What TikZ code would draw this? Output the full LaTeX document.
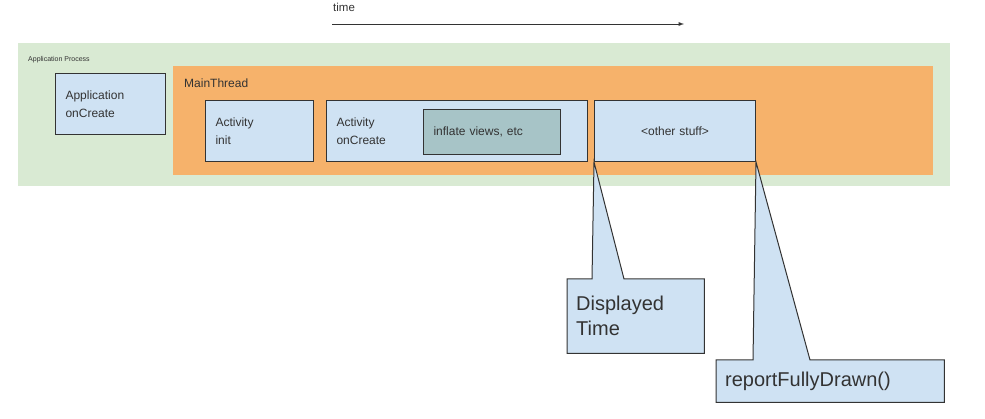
\documentclass[tikz,border=0pt]{standalone}
\usepackage{fontspec}
\setmainfont{Liberation Sans}
\usepackage{tikz}
\usetikzlibrary{arrows}
\usetikzlibrary{positioning}
\usetikzlibrary{calc}
\definecolor{procgreen}{HTML}{D9EAD3}
\definecolor{threadorange}{HTML}{F6B26B}
\definecolor{boxblue}{HTML}{CFE2F3}
\definecolor{inflteal}{HTML}{A7C4C7}
\definecolor{edgegray}{HTML}{333333}

\begin{document}
\begin{tikzpicture}
	[x=1pt,y=-1pt,every node/.style={anchor=north west,inner sep=0pt},
	 stepbox/.style={draw=edgegray,line width=1pt,fill=boxblue,align=left,
	   minimum height=61,inner xsep=10,text width=#1,
	   font=\fontsize{12}{18}\selectfont\color{edgegray}},
	 callbox/.style={fill=boxblue,align=left,inner xsep=9,text width=#1,
	   font=\fontsize{20}{25}\selectfont\color{edgegray}},
	 callline/.style={draw=edgegray,line width=1pt}]
	\useasboundingbox (0,0) rectangle (985,419);
	% time axis
	\node (timelbl) at (333,3) {\fontsize{11.5}{13}\selectfont\color{edgegray}time};
	\coordinate (t0) at (332,24);
	\coordinate (t1) at (684,24);
	\draw[-latex,edgegray,line width=0.9pt] (t0) -- (t1);
	% process and thread
	\node[fill=procgreen,minimum width=932,minimum height=143] (proc) at (18,43) {};
	\node (proclbl) at (28,56) {\fontsize{7}{8}\selectfont\color{edgegray}Application Process};
	\node[fill=threadorange,minimum width=760,minimum height=109] (thread) at (173,66) {};
	\node (threadlbl) at (184,79) {\fontsize{12}{14}\selectfont\color{edgegray}MainThread};
	\node[stepbox=90] (appcreate) at (55,73) {Application\\onCreate};
	\node[stepbox=88] (actinit) at (205,100) {Activity\\init};
	\node[stepbox=241] (actcreate) at (326,100) {Activity\\onCreate};
	\node[stepbox=117,fill=inflteal,minimum height=45] (inflate) at (423,109) {inflate views, etc};
	\node[stepbox=141,align=center] (other) at (594,100) {<other stuff>};
	% callouts
	\node[callbox=119,minimum height=74] (disp) at (567,279) {Displayed\\Time};
	\node[callbox=210,minimum height=42] (report) at (716,360) {reportFullyDrawn()};
	\fill[boxblue] (other.south west) -- ($(disp.north west)+(25,0)$) -- ($(disp.north west)+(57,0)$) -- cycle;
	\draw[callline] ($(disp.north west)+(25,0)$) -- (disp.north west) -- (disp.south west)
	  -- (disp.south east) -- (disp.north east) -- ($(disp.north west)+(57,0)$)
	  -- (other.south west) -- cycle;
	\fill[boxblue] (other.south east) -- ($(report.north west)+(37,0)$) -- ($(report.north west)+(94,0)$) -- cycle;
	\draw[callline] ($(report.north west)+(37,0)$) -- (report.north west) -- (report.south west)
	  -- (report.south east) -- (report.north east) -- ($(report.north west)+(94,0)$)
	  -- (other.south east) -- cycle;
\end{tikzpicture}
\end{document}
